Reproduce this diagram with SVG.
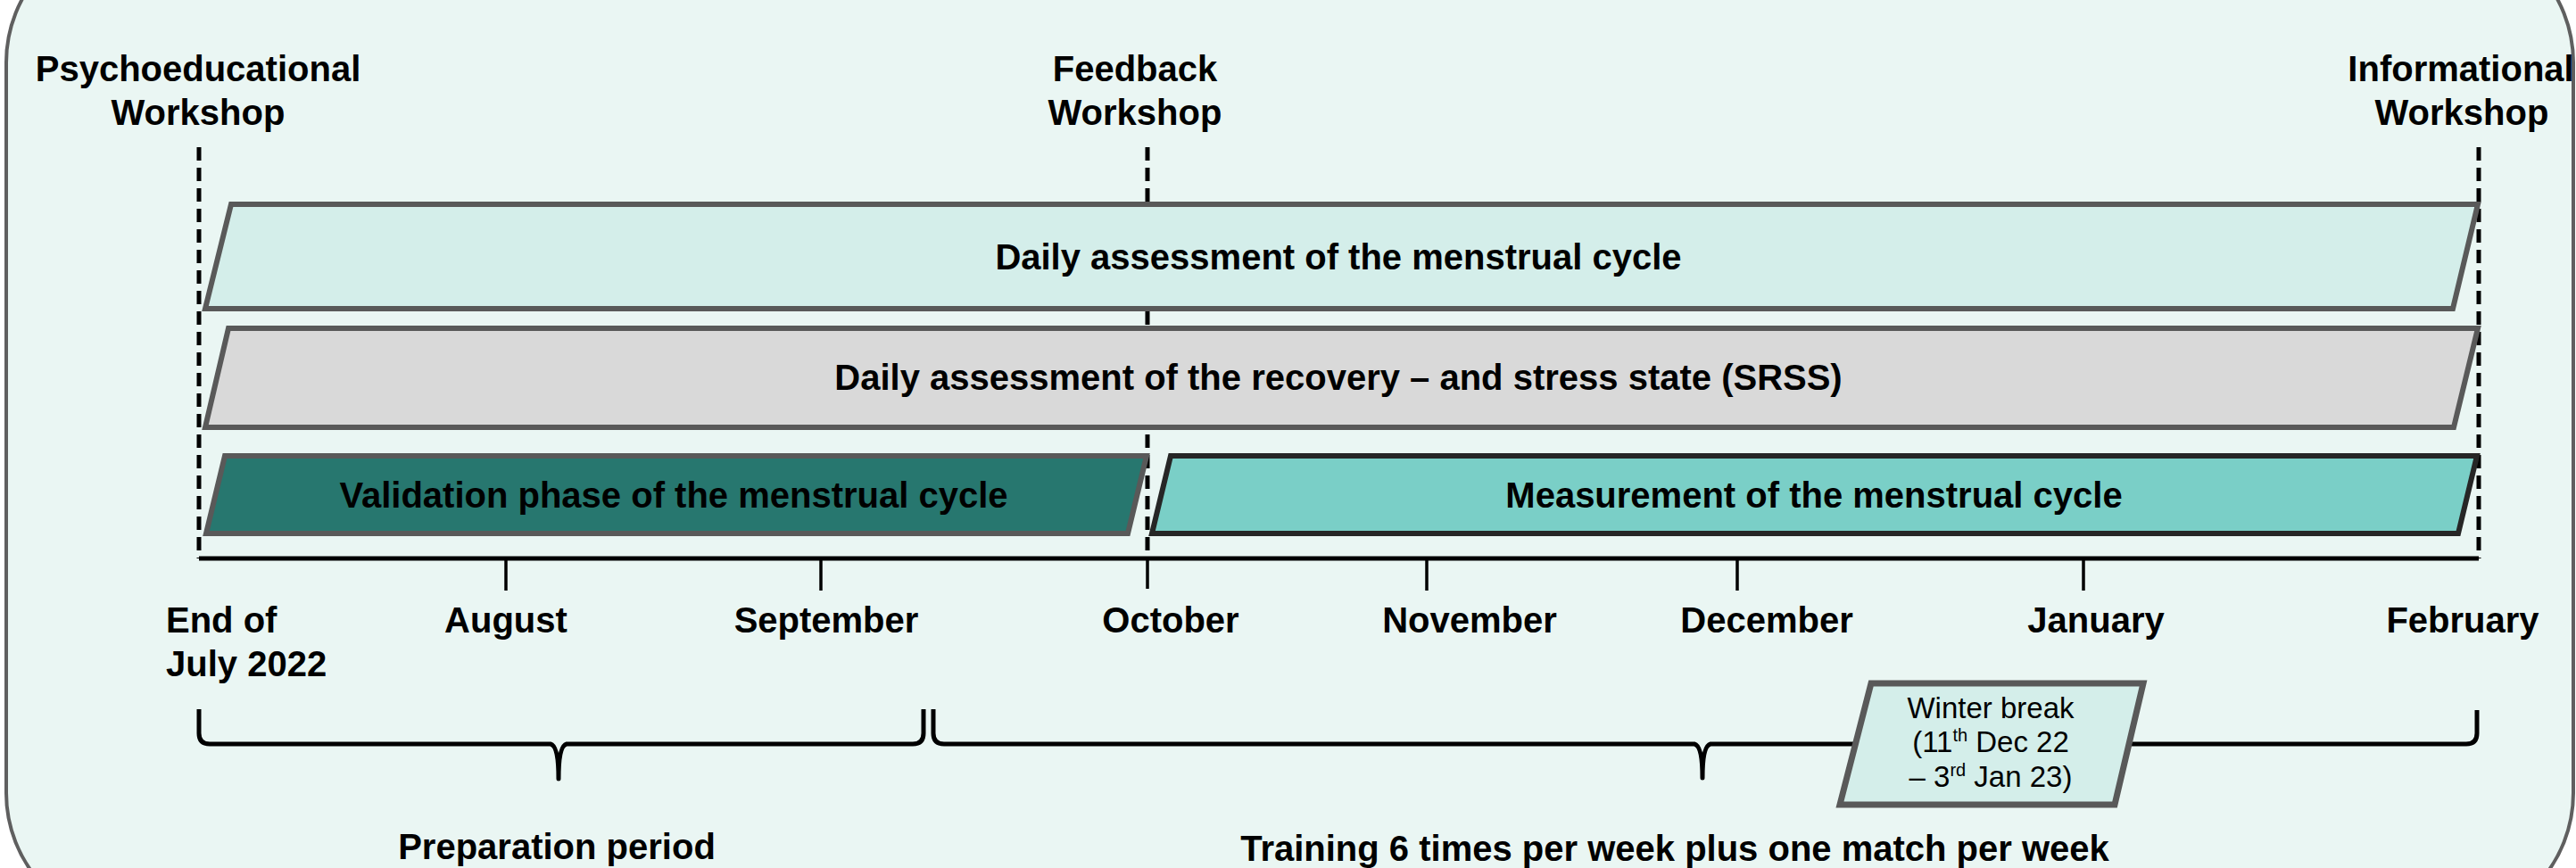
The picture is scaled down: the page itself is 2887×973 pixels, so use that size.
<svg xmlns="http://www.w3.org/2000/svg" width="2887" height="973" viewBox="0 0 2887 973">
  <style>
    .lbl { font-family: "Liberation Sans", Arial, sans-serif; font-weight: bold; font-size: 40px; fill: #000; }
    .mid { text-anchor: middle; }
    .small { font-family: "Liberation Sans", Arial, sans-serif; font-size: 33px; fill: #000; text-anchor: middle; }
    .sup { font-size: 20px; }
    .bar { stroke-width: 6; stroke-linejoin: miter; }
    .grayline { stroke: #595959; }
    .darkline { stroke: #262626; }
    .guide { fill: none; stroke: #000; stroke-width: 5; stroke-dasharray: 15 8; }
    .axis { fill: none; stroke: #000; stroke-width: 5; }
    .tick { fill: none; stroke: #000; stroke-width: 3.5; }
    .brace { fill: none; stroke: #000; stroke-width: 5; stroke-linejoin: round; }
  </style>

  <!-- page background and rounded frame -->
  <rect x="0" y="0" width="2887" height="973" fill="#ffffff"/>
  <rect id="frame" x="7" y="-80" width="2877" height="1119" rx="150" ry="150" fill="#eaf6f3" stroke="#5f5f5f" stroke-width="4"/>

  <!-- workshop guide lines, timeline axis, ticks and braces -->
  <g id="connectors">
    <line class="guide" x1="223" y1="165" x2="223" y2="626"/>
    <line class="guide" x1="1286" y1="165" x2="1286" y2="626"/>
    <line class="guide" x1="2778" y1="165" x2="2778" y2="626"/>

    <polyline class="axis" points="223,626 2778,626"/>
    <line class="tick" x1="567" y1="626" x2="567" y2="662"/>
    <line class="tick" x1="920" y1="626" x2="920" y2="662"/>
    <line class="tick" x1="1286" y1="626" x2="1286" y2="660"/>
    <line class="tick" x1="1599" y1="626" x2="1599" y2="662"/>
    <line class="tick" x1="1947" y1="626" x2="1947" y2="662"/>
    <line class="tick" x1="2335" y1="626" x2="2335" y2="662"/>

    <path class="brace" d="M223,795 L223,822 Q223,834 235,834 L617,834 Q626,836 626,873 Q626,836 635,834 L1023,834 Q1035,834 1035,822 L1035,795"/>
    <path class="brace" d="M1046,795 L1046,822 Q1046,834 1058,834 L1899,834 Q1908,836 1908,872 Q1908,836 1917,834 L2764,834 Q2776,834 2776,822 L2776,796"/>
  </g>

  <!-- workshop labels -->
  <g id="psychoeducational-workshop">
    <text class="lbl mid" x="222" y="91">Psychoeducational</text>
    <text class="lbl mid" x="222" y="140">Workshop</text>
  </g>
  <g id="feedback-workshop">
    <text class="lbl mid" x="1272" y="91">Feedback</text>
    <text class="lbl mid" x="1272" y="140">Workshop</text>
  </g>
  <g id="informational-workshop">
    <text class="lbl mid" x="2758" y="91">Informational</text>
    <text class="lbl mid" x="2759" y="140">Workshop</text>
  </g>

  <!-- study phases -->
  <g id="menstrual-daily">
    <polygon class="bar grayline" fill="#d4eeea" points="259,229 2777,229 2749,346 230,346"/>
    <text class="lbl mid" x="1500" y="302">Daily assessment of the menstrual cycle</text>
  </g>
  <g id="srss-daily">
    <polygon class="bar grayline" fill="#d9d9d9" points="256,368 2777,368 2750,479 230,479"/>
    <text class="lbl mid" x="1500" y="437">Daily assessment of the recovery – and stress state (SRSS)</text>
  </g>
  <g id="validation-phase">
    <polygon class="bar grayline" fill="#27776f" points="252,511 1285,511 1264,598 231,598"/>
    <text class="lbl mid" x="755" y="569">Validation phase of the menstrual cycle</text>
  </g>
  <g id="measurement-phase">
    <polygon class="bar darkline" fill="#7acfc7" points="1312,511 2776,511 2755,598 1291,598"/>
    <text class="lbl mid" x="2033" y="569">Measurement of the menstrual cycle</text>
  </g>

  <!-- month labels -->
  <g id="months">
    <text class="lbl" x="186" y="709">End of</text>
    <text class="lbl" x="186" y="758">July 2022</text>
    <text class="lbl mid" x="567" y="709">August</text>
    <text class="lbl mid" x="926" y="709">September</text>
    <text class="lbl mid" x="1312" y="709">October</text>
    <text class="lbl mid" x="1647" y="709">November</text>
    <text class="lbl mid" x="1980" y="709">December</text>
    <text class="lbl mid" x="2349" y="709">January</text>
    <text class="lbl mid" x="2760" y="709">February</text>
  </g>

  <!-- winter break -->
  <g id="winter-break">
    <polygon class="grayline" stroke-width="7" fill="#d4eeea" points="2097,766 2402,766 2370,902 2062,902"/>
    <text class="small" x="2231" y="805">Winter break</text>
    <text class="small" x="2231" y="843">(11<tspan class="sup" dy="-12">th</tspan><tspan dy="12"> Dec 22</tspan></text>
    <text class="small" x="2231" y="882">– 3<tspan class="sup" dy="-12">rd</tspan><tspan dy="12"> Jan 23)</tspan></text>
  </g>

  <!-- period labels -->
  <g id="preparation-period">
    <text class="lbl mid" x="624" y="963">Preparation period</text>
  </g>
  <g id="training-period">
    <text class="lbl mid" x="1877" y="965">Training 6 times per week plus one match per week</text>
  </g>
</svg>
